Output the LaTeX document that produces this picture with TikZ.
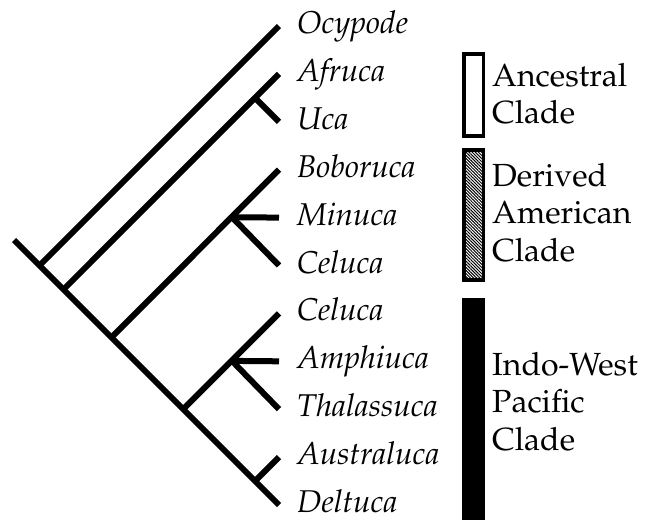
\documentclass[tikz,border=0pt]{standalone}
\usepackage[T1]{fontenc}
\usepackage{mathpazo}
\usepackage{tikz}
\usetikzlibrary{patterns.meta,calc}

\begin{document}
\begin{tikzpicture} [x=1pt, y=-1pt,
  branch/.style={line width=6pt, line cap=butt},
  taxon/.style={anchor=base west, inner sep=0pt, xshift=18pt, yshift=-7.5pt, font=\fontsize{31.5}{37.5}\selectfont\itshape},
  cladetext/.style={anchor=west, inner sep=0pt, align=left, font=\fontsize{32}{37.5}\selectfont},
  cladebox/.style={line width=3.5pt}]
\useasboundingbox (0,0) rectangle (646,520);

% tips
\foreach \n [count=\i from 0] in {ocy,afr,uca,bob,min,cel,celb,amp,tha,aus,del}
  \coordinate (\n) at (279,{26+47.9*\i});
\foreach \n/\t in {ocy/Ocypode,afr/Afruca,uca/Uca,bob/Boboruca,min/Minuca,cel/Celuca,celb/Celuca,amp/Amphiuca,tha/Thalassuca,aus/Australuca,del/Deltuca}
  \node[taxon] (\n-lab) at (\n) {\t};

% inner nodes
\coordinate (root) at (14,240);
\coordinate (n1) at (39.5,265.5);
\coordinate (n2) at (63.5,289.5);
\coordinate (n3) at (111.4,337.4);
\coordinate (n4) at (183.2,409.2);
\coordinate (n5) at (255,481);
\coordinate (au) at (255,97.9);
\coordinate (mc) at (232,217.2);
\coordinate (ap) at (232,360.9);

\draw[branch] (root) -- (del);
\draw[branch] (n1) -- (ocy);
\draw[branch] (n2) -- (afr);
\draw[branch] (au) -- (uca);
\draw[branch] (n3) -- (bob);
\draw[branch] (mc) -- (min);
\draw[branch] (mc) -- (cel);
\draw[branch] (n4) -- (celb);
\draw[branch] (ap) -- (amp);
\draw[branch] (ap) -- (tha);
\draw[branch] (n5) -- (aus);

% clades
\draw[cladebox] (464,54) rectangle (483.5,136);
\draw[cladebox, pattern={Lines[angle=-45,distance=2.2pt,line width=1pt]}] (464,150) rectangle (483.5,280);
\fill (462,298) rectangle (484.5,520);
\node[cladetext] (anc) at (492,94) {Ancestral\\Clade};
\node[cladetext] (dam) at (492,212.5) {Derived\\American\\Clade};
\node[cladetext] (iwp) at (492,401.5) {Indo-West\\Pacific\\Clade};
\end{tikzpicture}
\end{document}
